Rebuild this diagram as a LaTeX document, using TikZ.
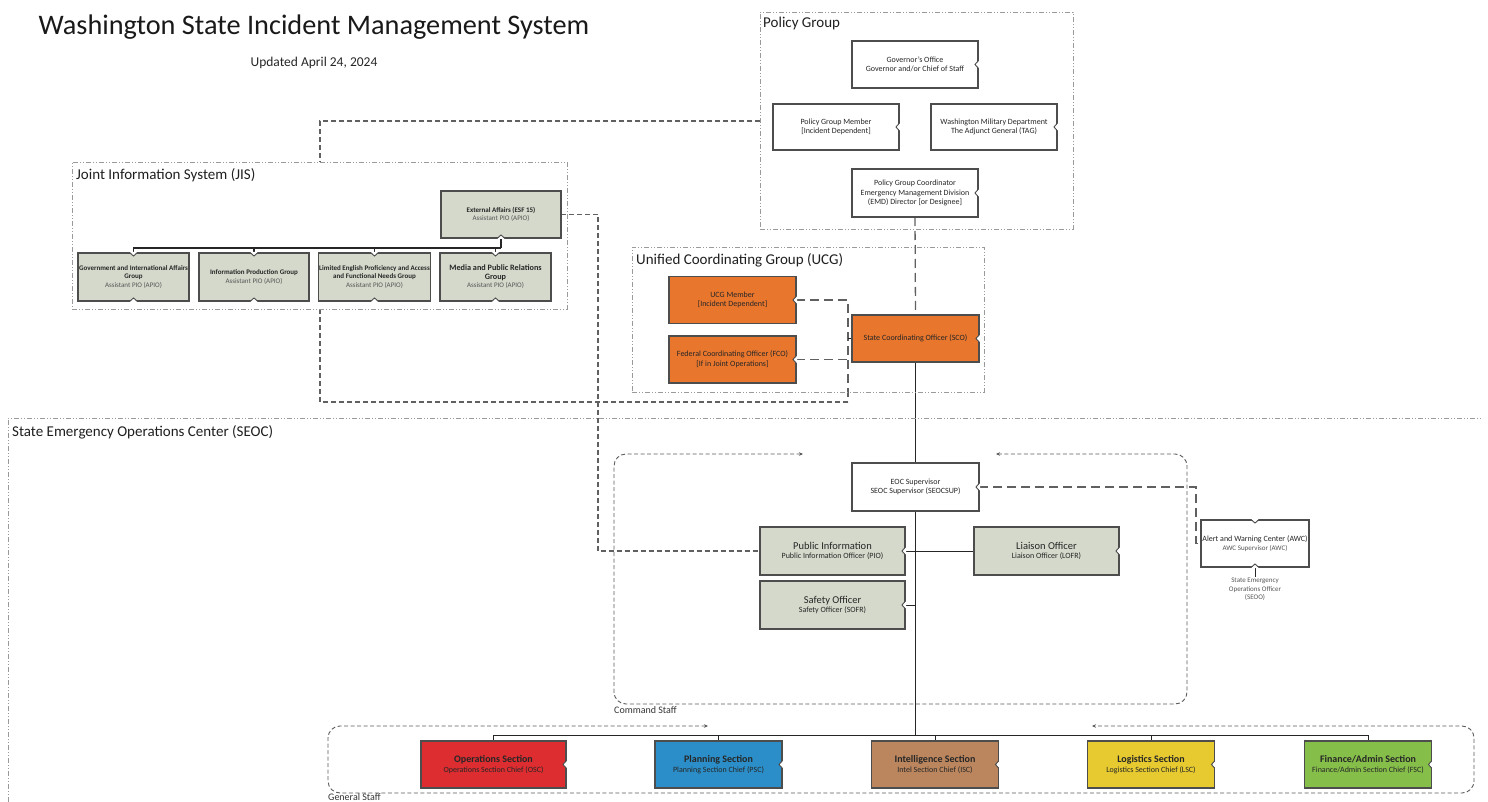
\documentclass[tikz,border=0pt]{standalone}
\usepackage{fontspec}
\setmainfont{Carlito}
\usetikzlibrary{arrows.meta,backgrounds}
\definecolor{boxline}{HTML}{4D4D4D}
\definecolor{sage}{HTML}{D4D9CB}
\definecolor{ucgorange}{HTML}{E8762D}
\definecolor{opsred}{HTML}{DD2D30}
\definecolor{planblue}{HTML}{2B8EC8}
\definecolor{intelbrown}{HTML}{BB865E}
\definecolor{logyellow}{HTML}{E6CA30}
\definecolor{fingreen}{HTML}{86BE4A}
\definecolor{grpline}{HTML}{9A9A9A}
\definecolor{linkgray}{HTML}{606060}
\definecolor{staffgray}{HTML}{5A5A5A}
\definecolor{connc}{HTML}{262626}
\definecolor{txtmain}{HTML}{262626}
\definecolor{txtsub}{HTML}{555555}
\newcommand\notchR[1]{%
  \fill[white] ([xshift=1pt,yshift=3.5pt]#1.east) -- ([xshift=-3pt]#1.east) -- ([xshift=1pt,yshift=-3.5pt]#1.east) -- cycle;
  \draw[boxline,line width=0.9pt] ([yshift=3.5pt]#1.east) -- ([xshift=-3pt]#1.east) -- ([yshift=-3.5pt]#1.east);}
\newcommand\notchT[1]{%
  \fill[white] ([xshift=-3.5pt,yshift=1pt]#1.north) -- ([yshift=-3pt]#1.north) -- ([xshift=3.5pt,yshift=1pt]#1.north) -- cycle;
  \draw[boxline,line width=0.9pt] ([xshift=-3.5pt]#1.north) -- ([yshift=-3pt]#1.north) -- ([xshift=3.5pt]#1.north);}
\newcommand\notchB[1]{%
  \fill[white] ([xshift=-3.5pt,yshift=-1pt]#1.south) -- ([yshift=3pt]#1.south) -- ([xshift=3.5pt,yshift=-1pt]#1.south) -- cycle;
  \draw[boxline,line width=0.9pt] ([xshift=-3.5pt]#1.south) -- ([yshift=3pt]#1.south) -- ([xshift=3.5pt]#1.south);}
\tikzset{
  box/.style={draw=boxline, line width=1.2pt, outer sep=0pt, inner sep=1pt, align=center,
    text=txtmain, font=\fontsize{8}{9.6}\selectfont},
  wbox/.style={box, fill=white},
  gbox/.style={box, fill=sage},
  obox/.style={box, fill=ucgorange},
  jbox/.style={box, fill=sage, font=\fontsize{7}{8.6}\selectfont},
  grp/.style={draw=grpline, line width=0.9pt, outer sep=0pt, inner sep=0pt,
    dash pattern=on 5pt off 2pt on 1pt off 2pt on 1pt off 2pt},
  grplabel/.style={anchor=base west, inner sep=0pt, font=\fontsize{15}{17}\selectfont, text=black!88},
  dlink/.style={draw=linkgray, line width=1.1pt, dash pattern=on 5pt off 3pt},
  dlinkL/.style={draw=linkgray, line width=1.3pt, dash pattern=on 9pt off 5pt},
  conn/.style={draw=connc, line width=1pt},
  trunk/.style={draw=connc, line width=1.4pt},
  staff/.style={draw=staffgray, line width=0.9pt, dash pattern=on 4pt off 2.5pt, rounded corners=12pt,
    >={Stealth[length=4pt,width=3.5pt]}},
  stafflabel/.style={anchor=base west, inner sep=0pt, font=\fontsize{10}{12}\selectfont, text=black!80},
}
\begin{document}
\begin{tikzpicture}[x=1pt,y=-1pt]
\useasboundingbox (0,0) rectangle (1488,802);

% title
\node[anchor=base, inner sep=0pt, font=\fontsize{28.3}{31}\selectfont, text=black!90] (title) at (314,35) {Washington State Incident Management System};
\node[anchor=base, inner sep=0pt, font=\fontsize{13.5}{15}\selectfont, text=black!85] (updated) at (314,67) {Updated April 24, 2024};

% containers
\node[grp, minimum width=313pt, minimum height=217pt] (pg) at (916.5,120.5) {};
\node[grplabel] (pglab) at (763,28) {Policy Group};
\node[grp, minimum width=495pt, minimum height=147pt] (jis) at (319.5,235.5) {};
\node[grplabel] (jislab) at (76,180) {Joint Information System (JIS)};
\node[grp, minimum width=352pt, minimum height=145pt] (ucg) at (808,319.5) {};
\node[grplabel] (ucglab) at (636,264.5) {Unified Coordinating Group (UCG)};
\draw[grp] (8,815) -- (8,418) -- (1481,418);
\node[grplabel] (seoclab) at (12,436) {State Emergency Operations Center (SEOC)};

% staff frames
\draw[staff,<->] (803,454) -- (614,454) -- (614,704) -- (1187,704) -- (1187,454) -- (996,454);
\node[stafflabel] (cslab) at (614,713.5) {Command Staff};
\draw[staff,<->] (708,726) -- (328,726) -- (328,793) -- (1474,793) -- (1474,726) -- (1092,726);
\node[stafflabel] (gslab) at (328,800.5) {General Staff};

% policy group
\node[wbox, minimum width=126pt, minimum height=47pt] (gov) at (915,64.5) {Governor’s Office\\Governor and/or Chief of Staff};
\node[wbox, minimum width=126pt, minimum height=46pt] (pgm) at (836,127) {Policy Group Member\\{}[Incident Dependent]};
\node[wbox, minimum width=126pt, minimum height=46pt] (wmd) at (994,127) {Washington Military Department\\The Adjunct General (TAG)};
\node[wbox, minimum width=126pt, minimum height=48pt] (pgc) at (915,193) {Policy Group Coordinator\\Emergency Management Division\\(EMD) Director [or Designee]};

% UCG
\node[obox, minimum width=127pt, minimum height=47pt] (ucgm) at (732.5,300) {UCG Member\\{}[Incident Dependent]};
\node[obox, minimum width=127pt, minimum height=47pt] (fco) at (732.5,359.5) {Federal Coordinating Officer (FCO)\\{}[If in Joint Operations]};
\node[obox, minimum width=127pt, minimum height=47pt] (sco) at (915.5,338.5) {State Coordinating Officer (SCO)};

% JIS
\node[jbox, minimum width=120pt, minimum height=47pt] (ea) at (501,214.5) {\textbf{External Affairs (ESF 15)}\\\textcolor{txtsub}{Assistant PIO (APIO)}};
\node[jbox, minimum width=111pt, minimum height=48pt] (g1) at (133.5,277) {\textbf{Government and International Affairs}\\\textbf{Group}\\\textcolor{txtsub}{Assistant PIO (APIO)}};
\node[jbox, minimum width=110pt, minimum height=48pt] (g2) at (254,277) {\textbf{Information Production Group}\\\textcolor{txtsub}{Assistant PIO (APIO)}};
\node[jbox, minimum width=111pt, minimum height=48pt] (g3) at (374.5,277) {\textbf{Limited English Proficiency and Access}\\\textbf{and Functional Needs Group}\\\textcolor{txtsub}{Assistant PIO (APIO)}};
\node[jbox, minimum width=111pt, minimum height=48pt] (g4) at (495.5,277) {{\bfseries\fontsize{8.2}{10}\selectfont Media and Public Relations}\\{\bfseries\fontsize{8.2}{10}\selectfont Group}\\\textcolor{txtsub}{Assistant PIO (APIO)}};

% command staff
\node[wbox, minimum width=127pt, minimum height=48pt] (eoc) at (915.5,487) {EOC Supervisor\\SEOC Supervisor (SEOCSUP)};
\node[gbox, minimum width=145pt, minimum height=48pt] (pio) at (832.5,551) {{\fontsize{10.5}{12.5}\selectfont Public Information}\\Public Information Officer (PIO)};
\node[gbox, minimum width=145pt, minimum height=48pt] (lofr) at (1046.5,551) {{\fontsize{10.5}{12.5}\selectfont Liaison Officer}\\Liaison Officer (LOFR)};
\node[gbox, minimum width=145pt, minimum height=48pt] (sofr) at (832.5,605) {{\fontsize{10.5}{12.5}\selectfont Safety Officer}\\Safety Officer (SOFR)};
\node[wbox, minimum width=108pt, minimum height=47pt] (awc) at (1255,543.5) {Alert and Warning Center (AWC)\\\textcolor{txtsub}{\fontsize{7}{8.5}\selectfont AWC Supervisor (AWC)}};
\node[anchor=north, inner sep=1pt, align=center, text=txtsub, font=\fontsize{7}{8.5}\selectfont] (seoo) at (1255,577) {State Emergency\\Operations Officer\\(SEOO)};

% general staff
\node[box, fill=opsred, minimum width=145pt, minimum height=47pt] (ops) at (493.5,764.5) {{\bfseries\fontsize{10}{12.5}\selectfont Operations Section}\\Operations Section Chief (OSC)};
\node[box, fill=planblue, minimum width=127pt, minimum height=47pt] (plan) at (718.5,764.5) {{\bfseries\fontsize{10}{12.5}\selectfont Planning Section}\\Planning Section Chief (PSC)};
\node[box, fill=intelbrown, minimum width=127pt, minimum height=47pt] (intel) at (935,764.5) {{\bfseries\fontsize{10}{12.5}\selectfont Intelligence Section}\\Intel Section Chief (ISC)};
\node[box, fill=logyellow, minimum width=127pt, minimum height=47pt] (log) at (1151,764.5) {{\bfseries\fontsize{10}{12.5}\selectfont Logistics Section}\\Logistics Section Chief (LSC)};
\node[box, fill=fingreen, minimum width=127pt, minimum height=47pt] (fin) at (1368,764.5) {{\bfseries\fontsize{10}{12.5}\selectfont Finance/Admin Section}\\Finance/Admin Section Chief (FSC)};

% notches
\foreach \n in {gov,pgm,wmd,pgc,ucgm,fco,sco,eoc,pio,lofr,sofr,ops,plan,intel,log,fin} {\notchR{\n}}
\foreach \n in {g1,g2,g3,g4,awc} {\notchT{\n}}
\foreach \n in {ea,g1,g2,g3,g4,awc} {\notchB{\n}}

% connectors
\coordinate (pgj) at (320,121);
\coordinate (loopL) at (320,402);
\coordinate (loopR) at (848,402);
\coordinate (eaP) at (598,0);
\coordinate (awcx) at (1196,0);
\coordinate (jbus) at (0,248);
\coordinate (gbus) at (0,735);
\begin{pgfonlayer}{background}
  \draw[dlink] (pgj -| pg.west) -- (pgj) -- (pgj |- jis.north);
  \draw[dlink] (loopL |- jis.south) -- (loopL) -- (loopR);
  \draw[dlinkL] (ucgm.east) -| (loopR);
  \draw[dlinkL] (fco.east) -- (fco.east -| loopR);
  \draw[conn] (sco.west) -- (sco.west -| loopR);
  \draw[dlink] (ea.east) -- (ea.east -| eaP) -- (eaP |- pio.west) -- (pio.west);
  \draw[dlinkL] (pgc.south) -- (sco.north);
  \draw[dlinkL] (eoc.east) -- (eoc.east -| awcx) -- (awcx |- awc.west) -- (awc.west);
  \draw[conn] (awc.south) -- (seoo.north);
  \draw[conn, line width=1.3pt] (ea.south) -- (ea.south |- jbus);
  \draw[conn, line width=1.3pt] (g1.north) -- (g1.north |- jbus) -- (ea.south |- jbus);
  \foreach \n in {g2,g3,g4} {\draw[conn, line width=1.3pt] (\n.north) -- (\n.north |- jbus);}
  \draw[trunk] (sco.south) -- (sco.south |- gbus);
  \draw[conn] (pio.east) -- (lofr.west);
  \draw[conn] (sofr.east) -- (sofr.east -| sco.south);
  \draw[conn] (ops.north) -- (ops.north |- gbus) -- (fin.north |- gbus) -- (fin.north);
  \foreach \n in {plan,intel,log} {\draw[conn] (\n.north) -- (\n.north |- gbus);}
\end{pgfonlayer}
\end{tikzpicture}
\end{document}
